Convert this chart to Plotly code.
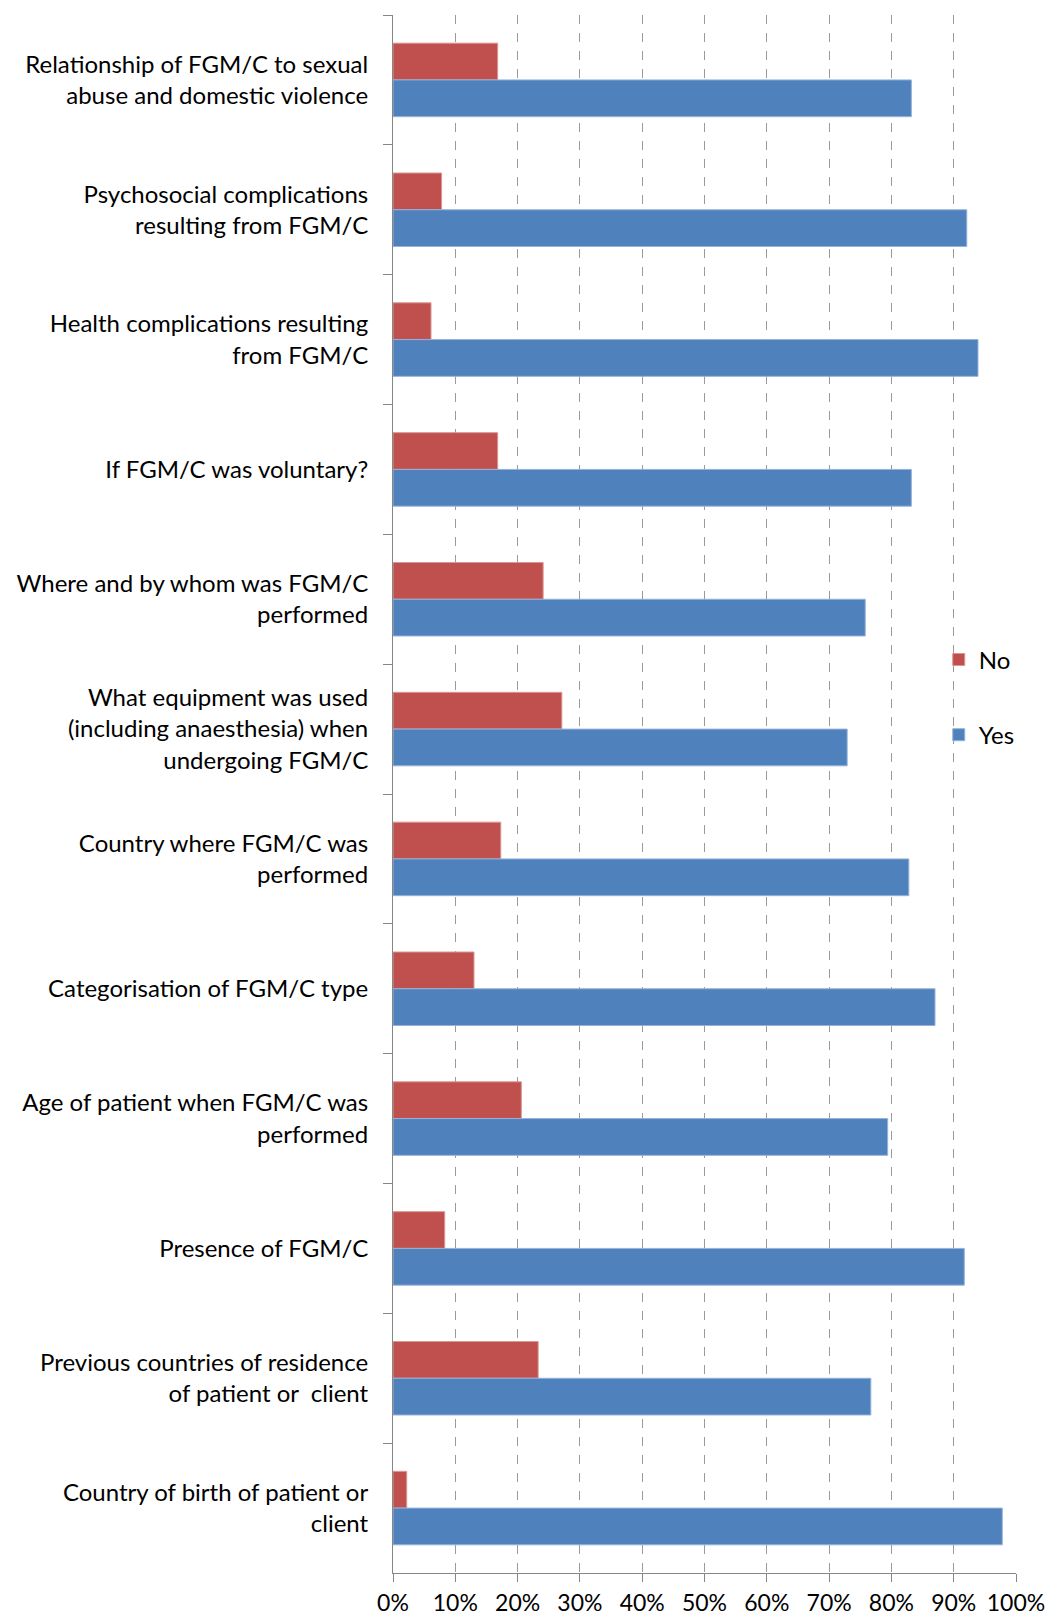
import plotly.graph_objects as go

categories = [
    "Relationship of FGM/C to sexual<br>abuse and domestic violence",
    "Psychosocial complications<br>resulting from FGM/C",
    "Health complications resulting<br>from FGM/C",
    "If FGM/C was voluntary?",
    "Where and by whom was FGM/C<br>performed",
    "What equipment was used<br>(including anaesthesia) when<br>undergoing FGM/C",
    "Country where FGM/C was<br>performed",
    "Categorisation of FGM/C type",
    "Age of patient when FGM/C was<br>performed",
    "Presence of FGM/C",
    "Previous countries of residence<br>of patient or  client",
    "Country of birth of patient or<br>client",
]
no_values = [0.168, 0.078, 0.061, 0.168, 0.241, 0.271, 0.173, 0.130, 0.206, 0.083, 0.233, 0.022]
yes_values = [0.832, 0.921, 0.939, 0.832, 0.758, 0.729, 0.828, 0.870, 0.794, 0.917, 0.767, 0.978]
x_ticks = [i / 10 for i in range(11)]
x_tick_labels = [f"{i*10}%" for i in range(11)]

FONT = "Lato"

fig = go.Figure()
fig.add_trace(go.Bar(
    y=categories, x=no_values, name="No", orientation="h",
    marker=dict(color="#C0504D", line=dict(color="#D99694", width=1)),
    legendgroup="no",
))
fig.add_trace(go.Bar(
    y=categories, x=yes_values, name="Yes", orientation="h",
    marker=dict(color="#4F81BD", line=dict(color="#95B3D7", width=1)),
    legendgroup="yes",
))

fig.update_layout(
    width=1047, height=1619,
    margin=dict(l=393, r=31, t=15, b=46),
    paper_bgcolor="white", plot_bgcolor="white",
    barmode="group", bargap=0.434, bargroupgap=0,
    font=dict(family=FONT, size=24, color="#000000"),
    legend=dict(
        x=0.876, xanchor="left", y=0.562, yanchor="middle",
        bgcolor="rgba(0,0,0,0)", tracegroupgap=41,
        font=dict(family=FONT, size=24, color="#000000"),
        traceorder="grouped",
    ),
    xaxis=dict(
        range=[0, 1], tickvals=x_ticks, ticktext=x_tick_labels,
        showgrid=True, gridcolor="#9a9a9a", griddash="dash", gridwidth=1,
        showline=True, linecolor="#868686", linewidth=1,
        ticks="outside", ticklen=8, tickcolor="#868686",
        zeroline=False, tickfont=dict(family=FONT, size=23),
        ticklabelstandoff=1, automargin=False,
        ticklabeloverflow="allow",
    ),
    yaxis=dict(
        type="category", autorange="reversed",
        showline=True, linecolor="#868686", linewidth=1,
        ticks="outside", ticklen=9, tickcolor="#868686", tickson="boundaries",
        showgrid=False, ticklabelstandoff=19, automargin=False,
        tickfont=dict(family=FONT, size=24),
    ),
)

fig.write_html(
    "out.html",
    config={"displayModeBar": False},
    post_script="document.body.style.margin='0';",
)
